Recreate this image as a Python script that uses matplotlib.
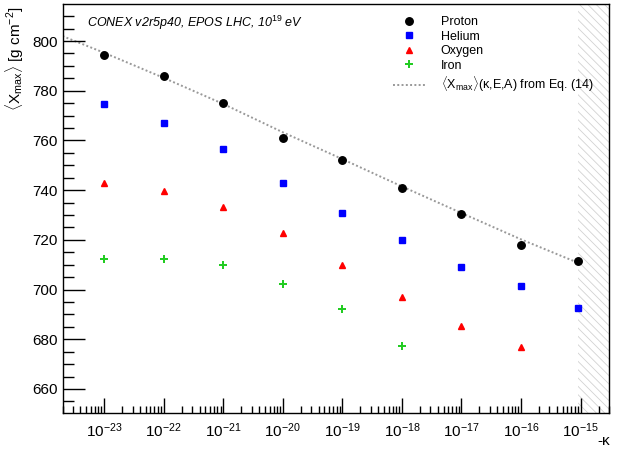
import numpy as np
import matplotlib
matplotlib.use('Agg')
import matplotlib.pyplot as plt
from matplotlib.ticker import LogLocator, MultipleLocator, NullFormatter

plt.rcParams['font.family'] = ['Liberation Sans', 'DejaVu Sans']
plt.rcParams['mathtext.fontset'] = 'custom'
plt.rcParams['mathtext.rm'] = 'Liberation Sans'
plt.rcParams['mathtext.it'] = 'Liberation Sans:italic'
plt.rcParams['hatch.linewidth'] = 0.6
plt.rcParams['hatch.color'] = '#d2d2d2'

# values
kappa = [1e-23, 1e-22, 1e-21, 1e-20, 1e-19, 1e-18, 1e-17, 1e-16, 9e-16]
proton = [794.4, 786.0, 775.2, 761.1, 752.3, 740.9, 730.5, 718.1, 711.6]
helium = [774.8, 766.9, 756.6, 743.0, 730.7, 720.0, 709.2, 701.4, 692.6]
oxygen = [742.9, 739.8, 733.4, 722.9, 709.8, 696.9, 685.5, 677.0]
iron = [712.2, 712.4, 710.0, 702.3, 692.0, 677.4]

kappa_eq = [2e-24, 1e-23, 1e-22, 1e-21, 1e-20, 1e-19, 1e-18, 1e-17, 1e-16, 9e-16]
xmax_eq = [802.0, 795.3, 785.2, 774.7, 763.3, 752.5, 741.5, 730.8, 720.2, 710.8]

kappa_excluded = 9e-16
decades = 10.0 ** np.arange(-23, -14)

fig = plt.figure(figsize=(6.23, 4.55), dpi=100)
ax = fig.add_axes([62.5/623, 1-413.3/455, (609-62.5)/623, (413.3-4.3)/455])

ax.axvspan(kappa_excluded, 3e-15, facecolor='none', edgecolor='#d2d2d2',
           hatch='\\\\\\\\', lw=0, zorder=0)

ax.plot(kappa_eq, xmax_eq, ls=(0, (1, 1.2)), color='#999999', lw=1.4,
        label=r'$\langle$X$_{\rm max}\rangle$(κ,E,A) from Eq. (14)', zorder=1)
ax.plot(kappa, proton, 'o', color='black', ms=5.4, ls='none', label='Proton', zorder=3)
ax.plot(kappa, helium, 's', color='#0000ff', ms=4.8, ls='none', label='Helium', zorder=3)
ax.plot(kappa[:len(oxygen)], oxygen, '^', color='#ff0000', ms=4.6, ls='none', label='Oxygen', zorder=3)
ax.plot(kappa[:len(iron)], iron, 'P', color='#22cc22', ms=6.2, mew=0, ls='none', label='Iron', zorder=3)

ax.set_xscale('log')
ax.set_xlim(2e-24, 3e-15)
ax.set_ylim(650.2, 814.8)

ax.set_xticks(decades)
ax.xaxis.set_minor_locator(LogLocator(base=10, subs=np.arange(2, 10), numticks=20))
ax.xaxis.set_minor_formatter(NullFormatter())
ax.yaxis.set_major_locator(MultipleLocator(20))
ax.yaxis.set_minor_locator(MultipleLocator(5))

ax.tick_params(which='both', direction='in', top=False, right=False, labelsize=11)
ax.tick_params(axis='y', which='major', length=16, width=1)
ax.tick_params(axis='y', which='minor', length=8, width=1)
ax.tick_params(axis='x', which='major', length=11, width=1, pad=6)
ax.tick_params(axis='x', which='minor', length=5, width=1)
for s in ax.spines.values():
    s.set_linewidth(1.0)

fig.text(15/623, 1-6/455, r'$\langle$X$_{\rm max}\rangle$ [g cm$^{-2}$]', fontsize=11,
         rotation=90, ha='center', va='top')
fig.text(604/623, 1-441/455, '-κ', fontsize=11, ha='center', va='center')

ax.text(0.045, 0.955, r'CONEX v2r5p40, EPOS LHC, 10$^{\mathit{19}}$ eV', transform=ax.transAxes,
        fontsize=9, fontstyle='italic', va='center', ha='left')

handles, labels = ax.get_legend_handles_labels()
order = [1, 2, 3, 4, 0]
ax.legend([handles[i] for i in order], [labels[i] for i in order], frameon=False,
          loc='upper left', bbox_to_anchor=(0.587, 0.995), fontsize=9, handlelength=2.5,
          handletextpad=1.3, labelspacing=0.2, borderaxespad=0.4)

fig.savefig('out.png', dpi=100)
